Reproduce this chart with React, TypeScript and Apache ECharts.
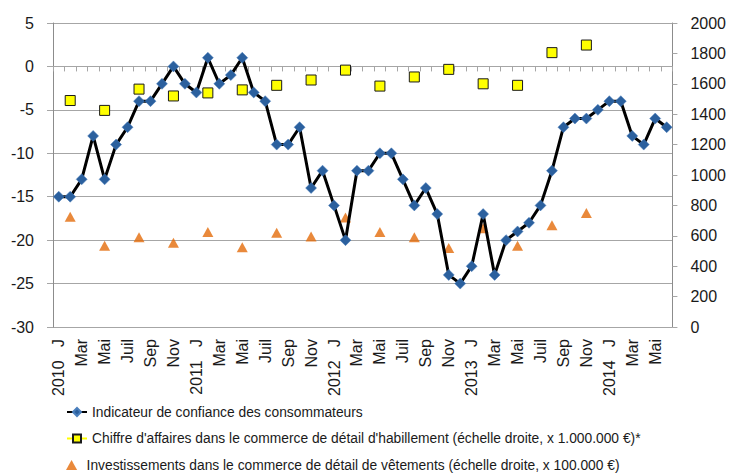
import React, { useEffect, useRef } from "react";
import * as echarts from "echarts";

// Monthly categories, Jan 2010 – Jun 2014
const categories: string[] = [
  "2010-01","2010-02","2010-03","2010-04","2010-05","2010-06","2010-07","2010-08","2010-09","2010-10","2010-11","2010-12",
  "2011-01","2011-02","2011-03","2011-04","2011-05","2011-06","2011-07","2011-08","2011-09","2011-10","2011-11","2011-12",
  "2012-01","2012-02","2012-03","2012-04","2012-05","2012-06","2012-07","2012-08","2012-09","2012-10","2012-11","2012-12",
  "2013-01","2013-02","2013-03","2013-04","2013-05","2013-06","2013-07","2013-08","2013-09","2013-10","2013-11","2013-12",
  "2014-01","2014-02","2014-03","2014-04","2014-05","2014-06",
];

// Tick labels for the month part (January shows the year)
const monthTickLabels: Record<string, string> = {
  "01": "J", "03": "Mar", "05": "Mai", "07": "Juil", "09": "Sep", "11": "Nov",
};

// Consumer confidence indicator (left axis)
const confidence: number[] = [
  -15, -15, -13, -8, -13, -9, -7, -4, -4, -2, 0, -2,
  -3, 1, -2, -1, 1, -3, -4, -9, -9, -7, -14, -12,
  -16, -20, -12, -12, -10, -10, -13, -16, -14, -17, -24, -25,
  -23, -17, -24, -20, -19, -18, -16, -12, -7, -6, -6, -5,
  -4, -4, -8, -9, -6, -7,
];

// Quarterly observations (middle month of each quarter)
const quarterMonths: string[] = [
  "2010-02","2010-05","2010-08","2010-11",
  "2011-02","2011-05","2011-08","2011-11",
  "2012-02","2012-05","2012-08","2012-11",
  "2013-02","2013-05","2013-08","2013-11",
];

// Turnover in clothing retail (right axis, x 1.000.000 €)
const turnover: number[] = [
  1490, 1425, 1565, 1520,
  1540, 1560, 1590, 1625,
  1690, 1585, 1645, 1695,
  1600, 1590, 1805, 1855,
];

// Investments in clothing retail (right axis, x 100.000 €)
const investments: number[] = [
  725, 535, 590, 555,
  625, 525, 620, 595,
  720, 625, 590, 520,
  650, 535, 670, 750,
];

const seriesNames = [
  "Indicateur de confiance des consommateurs",
  "Chiffre d'affaires dans le commerce de détail d'habillement (échelle droite, x 1.000.000 €)*",
  "Investissements dans le commerce de détail de vêtements (échelle droite, x 100.000 €)",
];

const FONT = "'Liberation Sans', Arial, sans-serif";

export default function App() {
  const ref = useRef<HTMLDivElement>(null);

  useEffect(() => {
    if (!ref.current) return;
    const chart = echarts.init(ref.current, undefined, { renderer: "svg" });

    // quarterly values placed on the monthly axis (gaps elsewhere)
    const turnoverFull = categories.map((c) => {
      const k = quarterMonths.indexOf(c);
      return k >= 0 ? turnover[k] : null;
    });

    const legendBase = {
      orient: "horizontal",
      left: 66,
      padding: 0,
      itemWidth: 20,
      itemHeight: 10,
      symbolKeepAspect: true,
      textStyle: { fontFamily: FONT, fontSize: 13.8, color: "#1a1a1a" },
    };
    const legendTops = [405, 431.5, 458];

    const option: any = {
      animation: false,
      backgroundColor: "#ffffff",
      grid: { left: 53, right: 56, top: 23, bottom: 147, containLabel: false },
      legend: [
        { ...legendBase, top: legendTops[0], data: [{ name: seriesNames[0] }] },
        { ...legendBase, top: legendTops[1], data: [{ name: seriesNames[1] }] },
        {
          ...legendBase,
          top: legendTops[2],
          data: [{ name: seriesNames[2], icon: "path://M5,0 L10,9 L0,9 Z" }],
        },
      ],
      xAxis: [
        {
          type: "category",
          data: categories,
          position: "bottom",
          boundaryGap: true,
          axisLine: { show: false, onZero: false },
          axisTick: { show: false },
          axisLabel: {
            interval: 1,
            rotate: 90,
            margin: 12,
            fontFamily: FONT,
            fontSize: 16,
            color: "#1a1a1a",
            formatter: (v: string) => {
              const [y, m] = v.split("-");
              return m === "01" ? y + "   J" : monthTickLabels[m] || "";
            },
          },
          splitLine: { show: false },
        },
        {
          type: "category",
          data: categories,
          position: "bottom",
          boundaryGap: true,
          axisLine: {
            show: true,
            onZero: true,
            onZeroAxisIndex: 0,
            lineStyle: { color: "#a6a6a6", width: 1 },
          },
          axisTick: {
            show: true,
            interval: 0,
            length: 5,
            lineStyle: { color: "#a6a6a6" },
          },
          axisLabel: { show: false },
          splitLine: { show: false },
        },
      ],
      yAxis: [
        {
          type: "value",
          position: "left",
          min: -30,
          max: 5,
          interval: 5,
          axisLine: { show: true, lineStyle: { color: "#8c8c8c" } },
          axisTick: { show: true, length: 6, lineStyle: { color: "#a6a6a6" } },
          axisLabel: { margin: 19, fontFamily: FONT, fontSize: 16, color: "#1a1a1a" },
          splitLine: { show: true, lineStyle: { color: "#a6a6a6", width: 1 } },
        },
        {
          type: "value",
          position: "right",
          min: 0,
          max: 2000,
          interval: 200,
          axisLine: { show: true, lineStyle: { color: "#8c8c8c" } },
          axisTick: { show: true, length: 5, lineStyle: { color: "#a6a6a6" } },
          axisLabel: {
            margin: 18,
            fontFamily: FONT,
            fontSize: 16,
            color: "#1a1a1a",
            formatter: (v: number) => String(v),
          },
          splitLine: { show: false },
        },
      ],
      series: [
        {
          name: seriesNames[0],
          type: "line",
          xAxisIndex: 0,
          yAxisIndex: 0,
          data: confidence,
          symbol: "diamond",
          symbolSize: 11,
          showAllSymbol: true,
          itemStyle: { color: "#2B609E", borderColor: "#4a7fbd", borderWidth: 0.5 },
          lineStyle: { color: "#000000", width: 3 },
          z: 3,
        },
        {
          name: seriesNames[1],
          type: "line",
          xAxisIndex: 0,
          yAxisIndex: 1,
          data: turnoverFull,
          connectNulls: false,
          symbol: "rect",
          symbolSize: 10,
          showAllSymbol: true,
          itemStyle: { color: "#FFFF00", borderColor: "#1a1a1a", borderWidth: 1 },
          lineStyle: { width: 2, color: "#FFFF00" },
          z: 2,
        },
        {
          name: seriesNames[2],
          type: "scatter",
          xAxisIndex: 0,
          yAxisIndex: 1,
          data: quarterMonths.map((c, i) => [c, investments[i]]),
          symbol: "triangle",
          symbolSize: [11, 10],
          itemStyle: { color: "#E46C0A" },
          z: 2,
        },
      ],
    };

    chart.setOption(option);
    return () => chart.dispose();
  }, []);

  return <div ref={ref} style={{ width: 729, height: 474, position: "absolute", left: 0, top: 0 }} />;
}
